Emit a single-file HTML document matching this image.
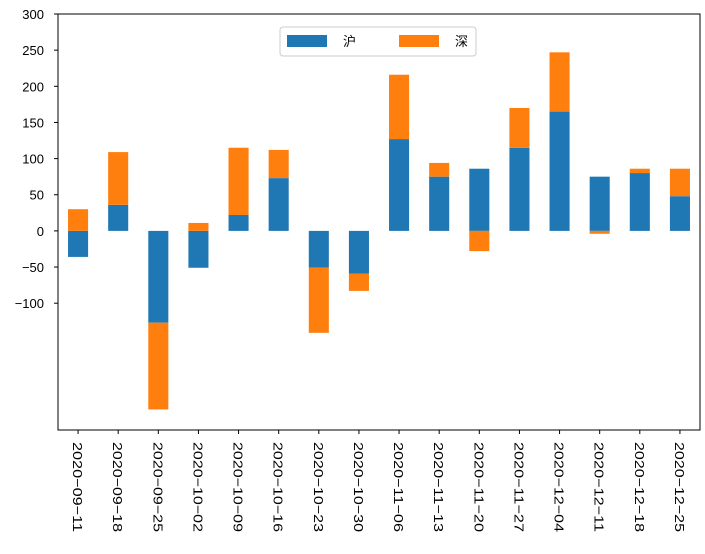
<!DOCTYPE html>
<html><head><meta charset="utf-8"><style>
body{margin:0;background:#fff;}
svg text{font-family:"Liberation Sans","Noto Sans CJK SC",sans-serif;font-size:13px;fill:#000;}
</style></head><body>
<svg id="chart" width="705" height="549" xmlns="http://www.w3.org/2000/svg"></svg>
<script>
const categories=["2020-09-11","2020-09-18","2020-09-25","2020-10-02","2020-10-09","2020-10-16","2020-10-23","2020-10-30","2020-11-06","2020-11-13","2020-11-20","2020-11-27","2020-12-04","2020-12-11","2020-12-18","2020-12-25"];
const huValues=[-36,36,-127,-51,22,73,-51,-59,127,75,86,115,165,75,80,48];
const shenValues=[30,73,-120,11,93,39,-90,-24,89,19,-28,55,82,-4,6,38];
const yTicks=[-100,-50,0,50,100,150,200,250,300];
const seriesNames=["沪","深"];
const colors=["#1f77b4","#ff7f0e"];
const L=58,R=700,T=14,B=430;
const yMax=300,yMin=-275.4;
const y=v=>T+(yMax-v)/(yMax-yMin)*(B-T);
const step=(R-L)/categories.length;
const xc=i=>L+step*(i+0.5);
const bw=step*0.5;
const svg=document.getElementById('chart');
const NS="http://www.w3.org/2000/svg";
function mk(t,a){const e=document.createElementNS(NS,t);for(const k in a)e.setAttribute(k,a[k]);svg.appendChild(e);return e;}
const series=[huValues,shenValues];
categories.forEach((c,i)=>{
  let pos=0,neg=0;
  series.forEach((s,j)=>{
    const v=s[i];let y0,y1;
    if(v>=0){y0=pos;y1=pos+v;pos=y1;}else{y0=neg;y1=neg+v;neg=y1;}
    const r=mk('rect',{x:xc(i)-bw/2,y:Math.min(y(y0),y(y1)),width:bw,height:Math.abs(y(y0)-y(y1)),fill:colors[j]});
    
    
  });
  const tk=mk('line',{x1:xc(i),x2:xc(i),y1:B,y2:B+4,stroke:'#000'});
  
  
  const t=mk('text',{x:0,y:0,transform:`translate(${xc(i)-5},${B+12}) rotate(90)`,textLength:90,lengthAdjust:'spacingAndGlyphs'});
  t.textContent=c.replace(/-/g,'\u2212');
  
  
});
yTicks.forEach(v=>{
  const tk=mk('line',{x1:L-4,x2:L,y1:y(v),y2:y(v),stroke:'#000'});
  
  
  const t=mk('text',{x:L-14,y:y(v)+5,'text-anchor':'end'});
  t.textContent=String(v).replace('-','\u2212');
  
  
});
const frame=mk('rect',{x:L,y:T,width:R-L,height:B-T,fill:'none',stroke:'#000','stroke-width':1});


const lg=mk('rect',{x:280,y:27,width:196,height:29,fill:'#fff',stroke:'#ccc',rx:3});


seriesNames.forEach((n,j)=>{
  const bx=287+j*112;
  const sw=mk('rect',{x:bx,y:35,width:40,height:12,fill:colors[j]});
  
  
  const t=mk('text',{x:bx+56,y:46});
  t.textContent=n;
  
  
});
</script>
</body></html>
